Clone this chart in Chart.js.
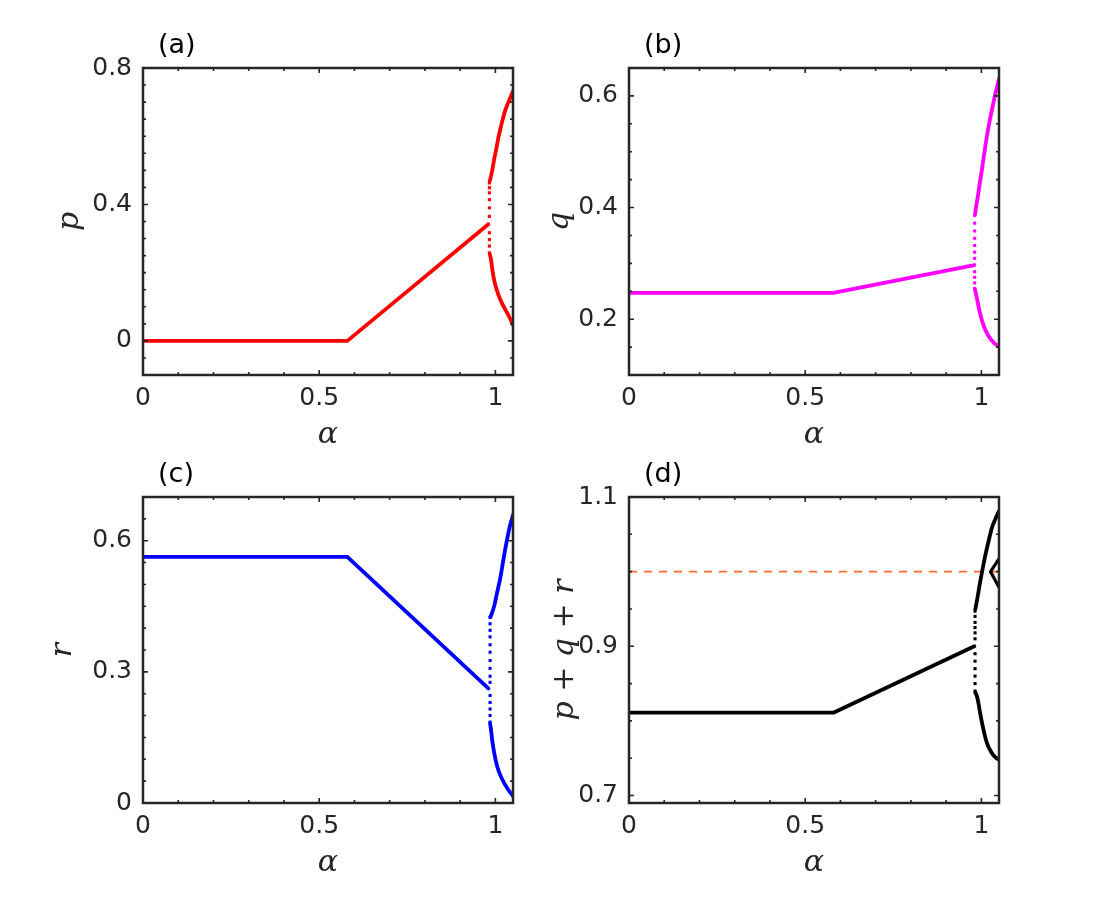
<!DOCTYPE html>
<html lang="en">
<head>
<meta charset="UTF-8" />
<title>p, q, r vs alpha</title>
<script src="https://cdn.jsdelivr.net/npm/chart.js"></script>
<style>
  html, body { margin: 0; padding: 0; background: #fff; }
  #wrap { position: relative; width: 1103px; height: 903px; }
  #wrap canvas { position: absolute; left: 0; top: 0; }
</style>
</head>
<body>
<div id="wrap">
  <canvas id="chA" width="1103" height="903"></canvas>
  <canvas id="chB" width="1103" height="903"></canvas>
  <canvas id="chC" width="1103" height="903"></canvas>
  <canvas id="chD" width="1103" height="903"></canvas>
</div>
<script>
// ---- data ----
const alphaLin = [0, 0.58, 0.98];
const pLin = [0, 0, 0.342];
const qLin = [0.247, 0.247, 0.297];
const rLin = [0.563, 0.563, 0.262];
const sLin = [0.811, 0.811, 0.900];

// (a) p branches
const alphaPUp = [0.984, 0.988, 0.992, 0.997, 1.003, 1.009, 1.019, 1.028, 1.040, 1.052];
const pUp = [0.468, 0.485, 0.505, 0.535, 0.565, 0.598, 0.642, 0.676, 0.707, 0.736];
const alphaPLow = [0.984, 0.988, 0.991, 0.995, 1.000, 1.009, 1.019, 1.038, 1.052];
const pLow = [0.255, 0.236, 0.212, 0.186, 0.163, 0.134, 0.110, 0.073, 0.043];
const alphaPDots = 0.983;
const pDots = [0.463, 0.449, 0.434, 0.414, 0.390, 0.365, 0.317, 0.297, 0.278, 0.258];

// (b) q branches
const alphaQUp = [0.982, 0.986, 0.990, 0.995, 1.002, 1.010, 1.021, 1.031, 1.040, 1.050];
const qUp = [0.388, 0.405, 0.420, 0.442, 0.470, 0.505, 0.547, 0.578, 0.605, 0.630];
const alphaQLow = [0.982, 0.985, 0.988, 0.995, 1.002, 1.010, 1.021, 1.035, 1.050];
const qLow = [0.253, 0.244, 0.2355, 0.214, 0.197, 0.183, 0.169, 0.158, 0.151];
const alphaQDots = 0.981;
const qDots = [0.386, 0.372, 0.358, 0.345, 0.332, 0.320, 0.309, 0.285, 0.275, 0.265, 0.255];

// (c) r branches
const alphaRUp = [0.986, 0.991, 0.997, 1.004, 1.014, 1.023, 1.033, 1.042, 1.052];
const rUp = [0.425, 0.436, 0.452, 0.478, 0.515, 0.558, 0.602, 0.636, 0.663];
const alphaRLow = [0.985, 0.988, 0.992, 1.000, 1.008, 1.019, 1.035, 1.052];
const rLow = [0.182, 0.165, 0.138, 0.101, 0.076, 0.055, 0.032, 0.014];
const alphaRDots = 0.985;
const rDots = [0.425, 0.410, 0.395, 0.380, 0.362, 0.345, 0.326, 0.308, 0.290, 0.276, 0.246, 0.230, 0.215, 0.200, 0.185];

// (d) p+q+r branches
const alphaSUp = [0.983, 0.990, 0.996, 1.002, 1.009, 1.016, 1.023, 1.030, 1.040, 1.050];
const sUp = [0.950, 0.968, 0.985, 1.000, 1.017, 1.032, 1.046, 1.059, 1.071, 1.081];
const alphaSLow = [0.983, 0.988, 0.992, 0.997, 1.002, 1.009, 1.016, 1.027, 1.038, 1.050];
const sLow = [0.838, 0.832, 0.823, 0.809, 0.797, 0.782, 0.770, 0.759, 0.752, 0.748];
const alphaSSpur = [1.050, 1.026, 1.050];
const sSpur = [1.017, 1.000, 0.979];
const alphaSDots = 0.982;
const sDots = [0.947, 0.940, 0.932, 0.925, 0.918, 0.910, 0.890, 0.880, 0.870, 0.860, 0.850, 0.840];
const alphaRef = [0, 1.05];
const sRef = [1, 1];

// ticks
const xMajor = [0, 0.5, 1];
const xMinor = [0.1, 0.2, 0.3, 0.4, 0.6, 0.7, 0.8, 0.9];
const yMajorA = [0, 0.4, 0.8];
const yMinorA = [-0.05, 0.05, 0.1, 0.15, 0.2, 0.25, 0.3, 0.35, 0.45, 0.5, 0.55, 0.6, 0.65, 0.7, 0.75];
const yMajorB = [0.2, 0.4, 0.6];
const yMinorB = [0.15, 0.25, 0.3, 0.35, 0.45, 0.5, 0.55];
const yMajorC = [0, 0.3, 0.6];
const yMinorC = [0.05, 0.1, 0.15, 0.2, 0.25, 0.35, 0.4, 0.45, 0.5, 0.55, 0.65];
const yMajorD = [0.7, 0.9, 1.1];
const yMinorD = [0.75, 0.8, 0.85, 0.95, 1.0, 1.05];

// ---- helpers ----
const pts = (xs, ys) => xs.map((x, i) => ({ x: x, y: ys[i] }));
const atX = (x0, ys) => ys.map(y => ({ x: x0, y: y }));
const INK = '#262626';
const TICK_FONT = { family: 'DejaVu Sans', size: 25 };
const LABEL_FONT = { family: 'DejaVu Serif', size: 30, style: 'italic', lineHeight: 1 };

function lineSet(data, color, width) {
  return { data: data, showLine: true, borderColor: color, backgroundColor: color,
           borderWidth: width || 3.8, pointRadius: 0, borderCapStyle: 'round',
           borderJoinStyle: 'round', tension: 0 };
}
function curveSet(data, color) {
  return Object.assign(lineSet(data, color), { cubicInterpolationMode: 'monotone' });
}
function dotSet(data, color) {
  return { data: data, showLine: false, backgroundColor: color, borderWidth: 0,
           pointRadius: 2.2, pointStyle: 'rect' };
}

// box, inward major/minor ticks and the panel letter
const framePlugin = {
  id: 'frame',
  afterDraw(chart) {
    const o = chart.options.plugins.frame;
    const { ctx, chartArea: a } = chart;
    const xs = chart.scales.x, ys = chart.scales.y;
    ctx.save();
    ctx.strokeStyle = INK;
    ctx.lineWidth = 1.6;
    const tickX = (v, len) => {
      const px = xs.getPixelForValue(v);
      ctx.beginPath();
      ctx.moveTo(px, a.bottom); ctx.lineTo(px, a.bottom - len);
      ctx.moveTo(px, a.top); ctx.lineTo(px, a.top + len);
      ctx.stroke();
    };
    const tickY = (v, len) => {
      const py = ys.getPixelForValue(v);
      ctx.beginPath();
      ctx.moveTo(a.left, py); ctx.lineTo(a.left + len, py);
      ctx.moveTo(a.right, py); ctx.lineTo(a.right - len, py);
      ctx.stroke();
    };
    xMajor.forEach(v => tickX(v, 5));
    xMinor.forEach(v => tickX(v, 3));
    o.yMajor.forEach(v => tickY(v, 5));
    o.yMinor.forEach(v => tickY(v, 3));
    ctx.lineWidth = 2.5;
    ctx.strokeRect(a.left, a.top, a.right - a.left, a.bottom - a.top);
    ctx.fillStyle = '#000';
    ctx.font = '27px "DejaVu Sans"';
    ctx.textAlign = 'left';
    ctx.textBaseline = 'middle';
    ctx.fillText(o.tag, a.left + 15, a.top - 22);
    ctx.restore();
  }
};

function makePanel(id, box, yMin, yMax, yMajor, yMinor, yTitle, tag, datasets) {
  const yW = box.left - box.yTitleX + 15;
  const xH = 75;
  return new Chart(document.getElementById(id), {
    type: 'scatter',
    data: { datasets: datasets },
    plugins: [framePlugin],
    options: {
      responsive: false,
      animation: false,
      layout: {
        autoPadding: false,
        padding: { left: box.left - yW, top: box.top, right: 1103 - box.right, bottom: 903 - box.bottom - xH }
      },
      plugins: {
        legend: { display: false },
        tooltip: { enabled: false },
        frame: { yMajor: yMajor, yMinor: yMinor, tag: tag }
      },
      scales: {
        x: {
          type: 'linear', min: 0, max: 1.05,
          afterBuildTicks: s => { s.ticks = xMajor.map(v => ({ value: v })); },
          afterFit: s => { s.height = xH; },
          grid: { display: false, drawTicks: false },
          border: { display: false },
          ticks: { font: TICK_FONT, color: INK, padding: 8, maxRotation: 0,
                   callback: v => String(+v.toFixed(2)) },
          title: { display: true, text: 'α', font: LABEL_FONT, color: INK, padding: 0 }
        },
        y: {
          type: 'linear', min: yMin, max: yMax,
          afterBuildTicks: s => { s.ticks = yMajor.map(v => ({ value: v })); },
          afterFit: s => { s.width = yW; },
          grid: { display: false, drawTicks: false },
          border: { display: false },
          ticks: { font: TICK_FONT, color: INK, padding: 11,
                   callback: v => String(+v.toFixed(2)) },
          title: { display: true, text: yTitle, font: LABEL_FONT, color: INK, padding: 0 }
        }
      }
    }
  });
}

const RED = '#ff0000', MAG = '#ff00ff', BLUE = '#0000ff', BLK = '#000000', ORANGE = '#ff6a2b';

makePanel('chA', { left: 143, top: 68, right: 513, bottom: 375, yTitleX: 70 },
  -0.1, 0.8, yMajorA, yMinorA, 'p', '(a)', [
    lineSet(pts(alphaLin, pLin), RED),
    curveSet(pts(alphaPUp, pUp), RED),
    curveSet(pts(alphaPLow, pLow), RED),
    dotSet(atX(alphaPDots, pDots), RED)
  ]);

makePanel('chB', { left: 629, top: 68, right: 999, bottom: 375, yTitleX: 560 },
  0.1, 0.65, yMajorB, yMinorB, 'q', '(b)', [
    lineSet(pts(alphaLin, qLin), MAG),
    curveSet(pts(alphaQUp, qUp), MAG),
    curveSet(pts(alphaQLow, qLow), MAG),
    dotSet(atX(alphaQDots, qDots), MAG)
  ]);

makePanel('chC', { left: 143, top: 497, right: 513, bottom: 803, yTitleX: 63 },
  0, 0.7, yMajorC, yMinorC, 'r', '(c)', [
    lineSet(pts(alphaLin, rLin), BLUE),
    curveSet(pts(alphaRUp, rUp), BLUE),
    curveSet(pts(alphaRLow, rLow), BLUE),
    dotSet(atX(alphaRDots, rDots), BLUE)
  ]);

makePanel('chD', { left: 629, top: 497, right: 999, bottom: 803, yTitleX: 565 },
  0.69, 1.1, yMajorD, yMinorD, 'p + q + r', '(d)', [
    lineSet(pts(alphaLin, sLin), BLK),
    curveSet(pts(alphaSUp, sUp), BLK),
    curveSet(pts(alphaSLow, sLow), BLK),
    lineSet(pts(alphaSSpur, sSpur), BLK, 3.2),
    dotSet(atX(alphaSDots, sDots), BLK),
    Object.assign(lineSet(pts(alphaRef, sRef), ORANGE, 1.6), { borderDash: [8, 7], borderCapStyle: 'butt' })
  ]);
</script>
</body>
</html>
